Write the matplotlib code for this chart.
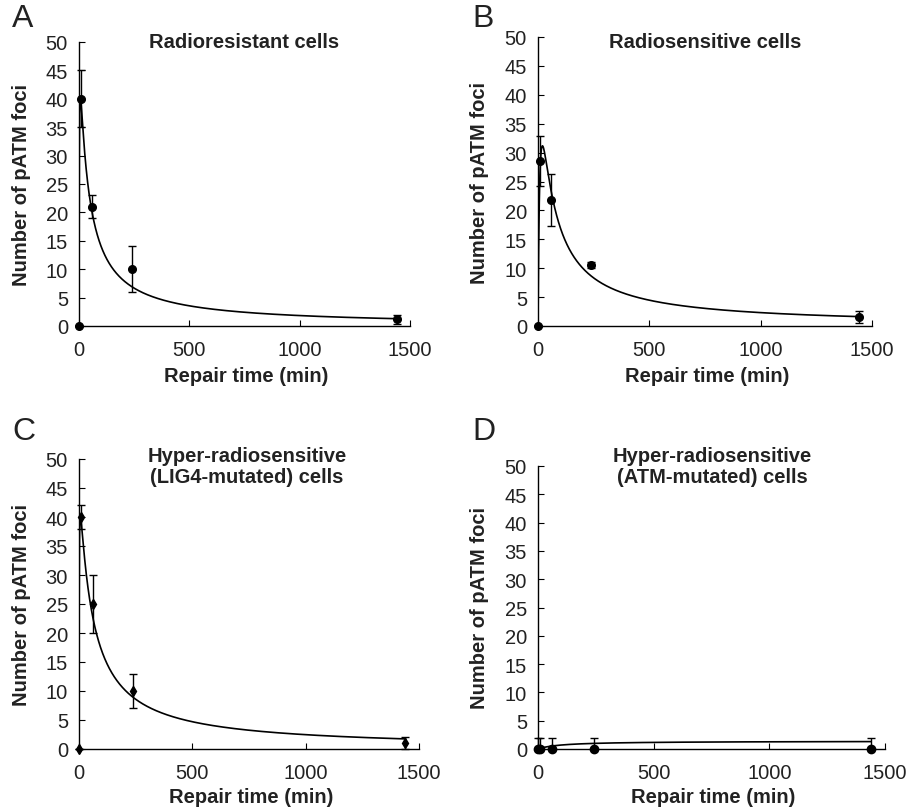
import numpy as np
import matplotlib
matplotlib.use('Agg')
import matplotlib.pyplot as plt

plt.rcParams['font.family'] = ['Liberation Sans', 'DejaVu Sans']

# ------- data ----------------------------------
repair_time = [0, 10, 60, 240, 1440]

foci_a = [0, 40, 21, 10, 1.2]
err_a = [0, 5, 2, 4, 0.8]

foci_b = [0, 28.5, 21.8, 10.6, 1.6]
err_b = [0, 4.3, 4.5, 0.5, 1.0]

foci_c = [0, 40, 25, 10, 1.0]
err_c = [0, 2, 5, 3, 1.0]

foci_d = [0, 0, 0, 0, 0]
err_d = [2, 2, 2, 2, 2]

# fitted curve parameters: y = a*t / (c*t^2 + p*t + q)
fit_a = [1900, 1, 35, 39]
fit_b = [2400, 1, 37, 400]
fit_c = [2600, 1, 53, 36]
fit_d = [1.4, 0, 1, 100]

titles = ['Radioresistant cells', 'Radiosensitive cells',
          'Hyper-radiosensitive\n(LIG4-mutated) cells',
          'Hyper-radiosensitive\n(ATM-mutated) cells']
letters = ['A', 'B', 'C', 'D']


def fit_curve(t, prm):
    """Evaluate the rise-and-decay model curve."""
    a, c, p, q = prm
    return a * t / (c * t ** 2 + p * t + q)


fig = plt.figure(figsize=(9.09, 8.12), dpi=100)
W, H = 909.0, 812.0

# axes boxes in pixels: left, right, top, bottom
boxes = [(79, 410, 43, 327), (538, 872, 38, 327),
         (79, 419, 460, 750), (538, 885, 467, 750)]
title_pos = [(244, 42), (705, 43), (247, 467), (712, 467)]
letter_pos = [(12, 19), (472, 19), (12, 432), (472, 432)]
ylab_x = [22, 480, 22, 480]
xlab_y = [377, 377, 798, 798]

# D only shows the upper half of its error bars
data = [(foci_a, [err_a, err_a], fit_a, 'o', 5.5),
        (foci_b, [err_b, err_b], fit_b, 'o', 5.5),
        (foci_c, [err_c, err_c], fit_c, 'd', 5),
        (foci_d, [[0] * len(err_d), err_d], fit_d, 'o', 6)]

t_fit = np.linspace(0, 1440, 2000)

for i, (l, r, t, b) in enumerate(boxes):
    ax = fig.add_axes([l / W, 1 - b / H, (r - l) / W, (b - t) / H])
    y, e, prm, mk, ms = data[i]
    ax.plot(t_fit, fit_curve(t_fit, prm), color='black', lw=1.2)
    ax.errorbar(repair_time, y, yerr=e, fmt=mk, color='black', ms=ms,
                elinewidth=1, capsize=3, capthick=1, clip_on=False)
    ax.set_xlim(0, 1500)
    ax.set_ylim(0, 50)
    ax.set_xticks([0, 500, 1000, 1500])
    ax.set_yticks(range(0, 51, 5))
    for s in ['top', 'right']:
        ax.spines[s].set_visible(False)
    for s in ['left', 'bottom']:
        ax.spines[s].set_linewidth(1)
    ax.tick_params(direction='in', length=4, width=0.8, labelsize=14.5,
                   colors='black', labelcolor='#222222')
    ax.tick_params(axis='y', pad=8)
    ax.tick_params(axis='x', pad=10)

    tx, ty = title_pos[i]
    fig.text(tx / W, 1 - ty / H, titles[i], ha='center', va='center',
             fontsize=14.5, fontweight='bold', color='#222222',
             linespacing=1.15)
    lx, ly = letter_pos[i]
    fig.text(lx / W, 1 - ly / H, letters[i], ha='left', va='center',
             fontsize=23, color='#222222')
    fig.text(ylab_x[i] / W, 1 - ((t + b) / 2) / H, 'Number of pATM foci',
             rotation=90, ha='center', va='center', fontsize=14.5,
             fontweight='bold', color='#222222')
    fig.text(((l + r) / 2 + 2) / W, 1 - xlab_y[i] / H, 'Repair time (min)',
             ha='center', va='center', fontsize=14.5, fontweight='bold',
             color='#222222')

fig.savefig('out.png', dpi=100)
